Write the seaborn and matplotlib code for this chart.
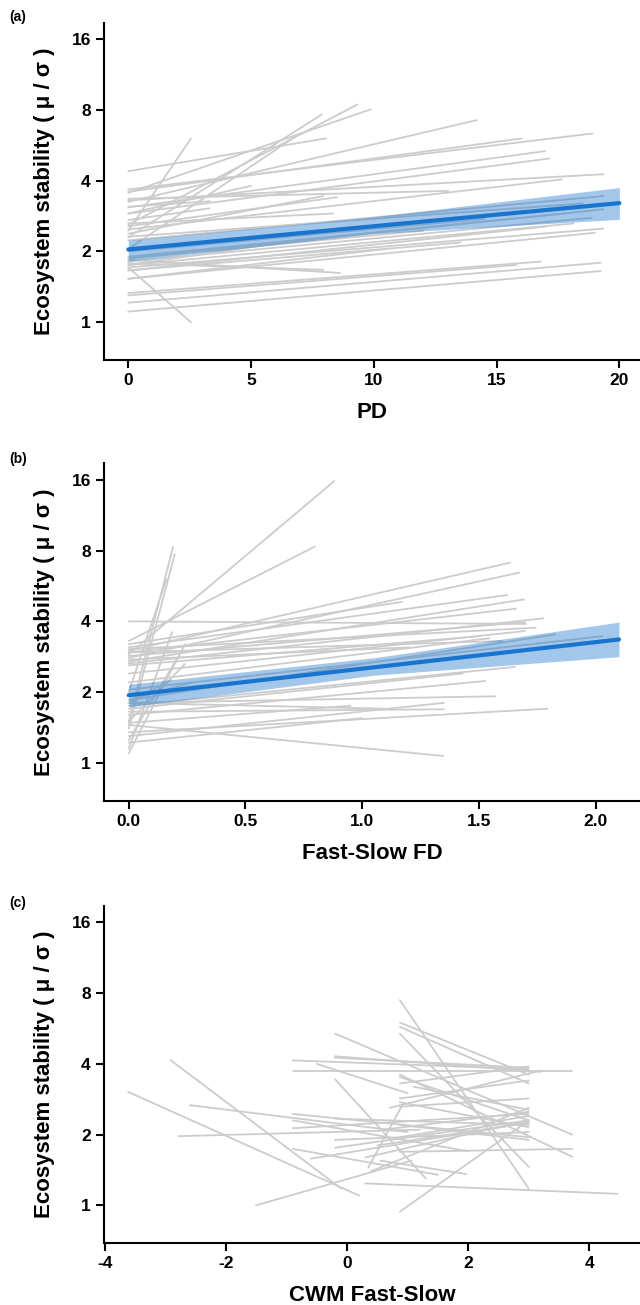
import numpy as np
import pandas as pd
import matplotlib
matplotlib.use('Agg')
import matplotlib.pyplot as plt
import seaborn as sns

# ---- data (site-level regression segments) ----
# panel (a): PD
pd_x0 = [0] * 41
pd_x1 = [8.05, 2.55, 2.55, 7.88, 9.33, 9.88, 6.99, 7.94, 8.35, 3.33, 7.94, 8.62, 14.19, 16.02,
         18.91, 16.97, 17.15, 19.35, 17.65, 13.03, 19.35, 19.35, 18.87, 18.13, 19.35, 13.51, 16.8,
         15.8, 19.24, 19.24, 3.30, 10.5, 8.50, 18.5, 17.8, 12.0, 6.5, 19.0, 14.5, 5.0, 17.0]
pd_y0 = [4.39, 1.71, 2.45, 2.30, 2.60, 3.55, 2.05, 2.38, 2.63, 3.10, 1.78, 1.84, 3.25, 3.59,
         3.67, 3.08, 2.90, 3.30, 2.48, 3.35, 2.23, 1.87, 1.81, 1.75, 1.71, 1.66, 1.33,
         1.30, 1.21, 1.11, 2.72, 1.53, 2.56, 2.31, 1.90, 1.87, 1.75, 1.53, 2.00, 2.90, 1.66]
pd_y1 = [6.05, 1.00, 6.04, 7.65, 8.44, 8.05, 6.35, 3.44, 2.90, 3.27, 1.67, 1.62, 7.24, 6.05,
         6.35, 5.34, 4.97, 4.26, 4.05, 3.62, 3.44, 3.02, 2.78, 2.63, 2.50, 2.18, 1.81,
         1.75, 1.79, 1.65, 3.05, 2.05, 3.40, 3.20, 2.90, 2.45, 2.20, 2.40, 2.75, 3.80, 2.55]
pd_fit_x = [0, 10, 20]
pd_fit_y = [2.04, 2.56, 3.21]
pd_fit_lo = [1.82, 2.38, 2.74]
pd_fit_hi = [2.23, 2.81, 3.74]

# panel (b): Fast-Slow FD
fd_x0 = [0] * 39
fd_x1 = [0.88, 0.797, 0.19, 0.197, 0.161, 0.186, 0.24, 0.24, 0.204, 0.183, 1.70, 1.633, 1.673,
         1.621, 1.693, 1.17, 1.659, 1.776, 1.743, 1.697, 1.697, 1.504, 1.544, 1.826, 2.03,
         1.654, 1.43, 1.527, 1.569, 1.35, 1.794, 1.347, 1.10, 1.35, 0.95, 1.00, 0.27, 1.20, 1.60]
fd_y0 = [2.9, 3.3, 1.5, 1.4, 2.0, 1.15, 1.10, 1.5, 1.25, 1.8, 4.0, 3.0, 2.8,
         3.1, 2.7, 3.2, 2.95, 2.65, 3.05, 2.85, 2.4, 2.6, 2.2, 1.85, 2.05,
         1.75, 1.7, 1.6, 1.8, 1.65, 1.35, 1.45, 1.80, 1.30, 1.48, 1.22, 1.85, 2.75, 2.95]
fd_y1 = [15.8, 8.32, 8.32, 7.72, 6.04, 3.6, 3.19, 2.63, 2.75, 2.26, 3.9, 7.11, 6.45,
         5.18, 4.96, 4.84, 4.53, 4.12, 3.76, 3.97, 3.64, 3.46, 3.39, 3.52, 3.46,
         2.56, 2.40, 2.23, 1.92, 1.69, 1.70, 1.07, 1.70, 1.80, 1.75, 1.55, 2.20, 3.10, 3.30]
fd_fit_x = [0, 1.05, 2.1]
fd_fit_y = [1.94, 2.55, 3.35]
fd_fit_lo = [1.73, 2.36, 2.83]
fd_fit_hi = [2.16, 2.80, 3.97]

# panel (c): CWM Fast-Slow
cwm_x0 = [-3.62, -2.92, -2.60, -2.79, -1.51, -0.90, -0.90, -0.90, -0.90, -0.90, -0.60, -0.20,
          -0.20, -0.20, -0.20, -0.20, -0.20, -0.50, 0.87, 0.87, 0.87, 0.87, 0.87, 0.87, 0.87,
          0.87, 0.87, 0.30, 0.87, 0.40, 0.55, 0.70, -0.90, 0.87, 0.50, 0.35, 0.30, -0.20, 0.87,
          0.87, 0.60, 0.87, 1.10]
cwm_x1 = [0.20, -0.10, 1.00, 1.20, 1.06, 3.00, 3.72, 3.00, 3.00, 1.50, 3.00, 3.72,
          3.20, 3.00, 1.30, 3.00, 3.00, 1.00, 3.00, 3.00, 3.00, 3.00, 3.00, 3.00, 3.00,
          3.72, 3.00, 4.47, 3.72, 3.00, 1.97, 3.20, 2.00, 3.00, 3.00, 0.92, 3.00, 3.00, 3.00,
          3.00, 3.00, 3.00, 3.00]
cwm_y0 = [3.04, 4.15, 2.67, 1.97, 1.00, 4.14, 3.72, 2.45, 2.13, 1.74, 1.58, 5.38,
          4.31, 4.25, 3.44, 2.34, 1.76, 4.00, 7.47, 6.00, 5.75, 5.38, 3.52, 2.85, 2.63,
          1.69, 0.94, 1.24, 3.60, 1.40, 1.55, 2.60, 2.30, 3.30, 1.80, 1.45, 1.60, 1.90, 2.20,
          2.75, 2.10, 1.95, 3.20]
cwm_y1 = [1.10, 1.18, 2.05, 2.10, 1.55, 3.80, 3.72, 1.95, 2.45, 1.35, 2.25, 2.00,
          3.70, 3.85, 1.30, 2.20, 2.30, 3.00, 1.18, 3.60, 3.30, 1.46, 2.30, 3.40, 2.85,
          1.74, 2.30, 1.12, 1.61, 2.60, 1.36, 3.75, 1.70, 3.90, 2.25, 2.70, 2.30, 2.05, 1.90,
          2.15, 2.50, 2.40, 2.55]

y_ticks = [1, 2, 4, 8, 16]
panel_tags = ['(a)', '(b)', '(c)']
x_labels = ['PD', 'Fast-Slow FD', 'CWM Fast-Slow']
y_label = 'Ecosystem stability ( μ / σ )'


def segments(x0, x1, y0, y1):
    rows = []
    for i in range(len(x0)):
        rows.append({'seg': i, 'x': x0[i], 'y': y0[i]})
        rows.append({'seg': i, 'x': x1[i], 'y': y1[i]})
    return pd.DataFrame(rows)


sns.set_style('ticks')
plt.rcParams['font.family'] = ['Liberation Sans', 'DejaVu Sans']
plt.rcParams['font.weight'] = 'bold'
plt.rcParams['text.color'] = 'black'
plt.rcParams['axes.labelcolor'] = 'black'
plt.rcParams['xtick.color'] = 'black'
plt.rcParams['ytick.color'] = 'black'

fig = plt.figure(figsize=(6.4, 13.05), dpi=100)

grey = '#CCCCCC'
blue = '#1874CD'

panels = [
    (segments(pd_x0, pd_x1, pd_y0, pd_y1), (pd_fit_x, pd_fit_y, pd_fit_lo, pd_fit_hi),
     (-0.99, 20.84), [0, 5, 10, 15, 20], ['0', '5', '10', '15', '20'], 0.7241),
    (segments(fd_x0, fd_x1, fd_y0, fd_y1), (fd_fit_x, fd_fit_y, fd_fit_lo, fd_fit_hi),
     (-0.106, 2.19), [0, 0.5, 1.0, 1.5, 2.0], ['0.0', '0.5', '1.0', '1.5', '2.0'], 0.3864),
    (segments(cwm_x0, cwm_x1, cwm_y0, cwm_y1), None,
     (-4.02, 4.84), [-4, -2, 0, 2, 4], ['-4', '-2', '0', '2', '4'], 0.0473),
]

tag_y = [17, 459, 903]

for i, (df, fit, xlim, xt, xtl, bottom) in enumerate(panels):
    ax = fig.add_axes([0.1625, bottom, 0.8375, 0.2585])
    sns.lineplot(data=df, x='x', y='y', units='seg', estimator=None,
                 color=grey, lw=1.3, ax=ax, legend=False)
    if fit is not None:
        fx, fy, flo, fhi = fit
        ax.fill_between(fx, flo, fhi, color=blue, alpha=0.4, lw=0, zorder=3)
        sns.lineplot(x=fx, y=fy, color=blue, lw=3.0, ax=ax, zorder=4)
    ax.set_yscale('log', base=2)
    ax.set_ylim(0.69, 18.8)
    ax.set_xlim(*xlim)
    ax.set_yticks(y_ticks)
    ax.set_yticklabels([str(t) for t in y_ticks])
    ax.minorticks_off()
    ax.set_xticks(xt)
    ax.set_xticklabels(xtl)
    ax.tick_params(labelsize=12.5, width=1.5, length=5.5, pad=4,
                   color='black', labelcolor='black')
    for lab in ax.get_xticklabels() + ax.get_yticklabels():
        lab.set_fontweight('bold')
    for s in ['top', 'right']:
        ax.spines[s].set_visible(False)
    for s in ['left', 'bottom']:
        ax.spines[s].set_linewidth(1.5)
        ax.spines[s].set_color('black')
    ax.set_xlabel(x_labels[i], fontsize=16, fontweight='bold', labelpad=10)
    ax.set_ylabel(y_label, fontsize=16, fontweight='bold', labelpad=12)
    fig.text(18 / 640, 1 - tag_y[i] / 1305, panel_tags[i], fontsize=10,
             fontweight='bold', ha='center', va='center')

fig.savefig('out.png', dpi=100)
